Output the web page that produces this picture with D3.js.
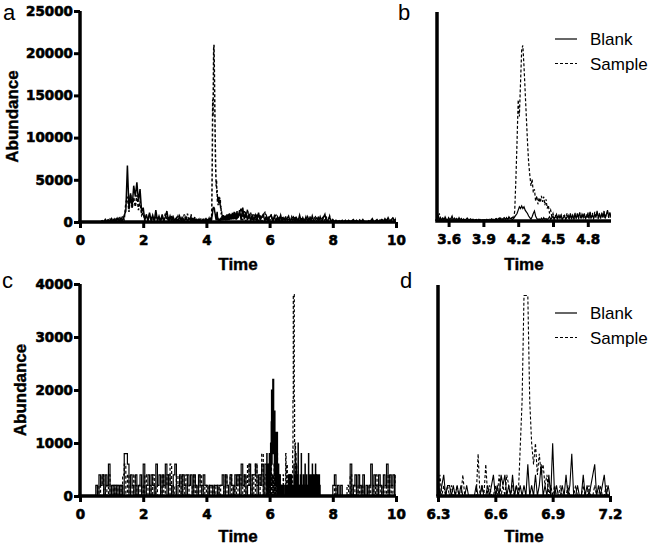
<!DOCTYPE html>
<html><head><meta charset="utf-8">
<script src="https://cdn.jsdelivr.net/npm/d3@7"></script>
<style>body{margin:0;background:#fff}</style>
</head><body>
<svg id="chart" width="649" height="546"></svg>
<script>
// ---------- Data (abundance values) ----------
// Panels a/b: sampled every 0.05 min outside 3.5–5.0, every 0.01 min inside it
const abBlankC1 = [0,0,0,0,0,0,0,0,0,0,0,0,0,0,
  150,0,300,0,250,50,400,0,350,50,450,100,500,100,800,
  1300,6700,1500,3400,1800,4300,3000,4700,2400,3900,1200,1700,
  200,900,100,1100,200,800,100,1400,150,700,100,900,100,600,1300,100,700,50,600,100,500,50,700,100,500,50,600,100,450];
const abBlankF = [200,700,100,400,150,350,100,500,200,100,
  400,150,300,600,100,350,150,300,100,400,
  150,300,100,250,100,200,350,100,150,250,
  100,200,50,150,100,50,200,100,50,150,
  50,150,50,200,100,50,150,250,100,200,
  100,250,150,300,100,350,150,300,400,150,
  350,200,500,250,350,150,300,500,700,900,
  1300,1700,1500,1800,1500,1700,1300,1100,900,600,
  400,200,500,900,1200,600,300,150,250,100,
  350,150,400,200,300,150,300,500,200,350,
  600,200,500,800,250,600,300,700,200,400,
  600,200,500,700,300,900,200,650,300,800,
  300,900,400,1000,300,800,400,900,300,600,
  900,300,1100,400,700,300,800,500,1200,400,
  800,300,900,400,1100,300,800,1300,400,1000,500];
const abBlankC2 = [1400,200,1700,300,1200,200,1000,100,900,200,
  800,100,1100,200,600,900,100,700,100,600,
  800,100,700,50,600,100,800,50,500,200,
  400,700,50,400,600,50,500,100,800,50,
  500,0,600,100,500,0,700,50,350,500,
  50,600,0,500,900,50,300,600,0,300,
  50,200,0,150,50,200,0,150,50,200,
  0,150,300,50,200,0,150,50,300,0,
  50,0,100,150,400,0,150,300,50,200,
  300,50,400,100,500,100,300,450,100,400];
const abSampleC1 = [0,0,0,0,0,0,0,0,0,0,0,0,0,0,
  100,250,0,300,50,350,100,300,50,400,100,450,100,550,300,
  2200,3000,1200,3300,1600,2900,1800,3200,1400,2500,800,1100,
  100,700,200,900,50,600,150,800,200,600,50,700,100,1000,200,600,50,800,100,500,200,700,50,500,100,900,150,1000,100];
const abSampleF = [150,400,900,200,100,350,150,300,100,250,
  300,100,350,150,100,300,150,100,300,150,
  100,250,50,200,250,50,200,300,50,200,
  50,200,50,150,200,50,150,200,50,100,
  150,50,200,100,50,200,100,50,200,100,
  200,300,150,200,350,150,300,100,350,200,
  400,200,350,500,300,450,200,1200,5000,9500,
  14500,12500,16500,20500,21000,18500,15500,12500,9500,7000,
  5500,4200,5000,3400,3800,2400,3000,2000,2800,2200,
  3000,2300,2900,1900,2600,1500,1900,900,1300,500,
  900,300,700,200,600,800,300,700,200,600,
  700,200,900,400,200,800,300,700,200,900,
  400,800,200,1000,500,300,900,400,200,800,
  300,1000,400,800,900,300,1100,400,800,300,
  900,400,1000,500,1200,300,900,1100,400,1000,500];
const abSampleC2 = [900,1700,200,1300,100,1500,300,1100,100,900,
  200,1000,100,900,50,800,1100,100,700,50,
  900,50,600,800,50,700,50,600,100,700,
  100,500,50,600,0,700,50,500,0,600,
  0,500,50,600,0,500,50,400,600,0,
  500,0,400,600,0,500,50,700,0,200,
  0,150,50,200,0,150,50,200,0,100,
  150,0,200,50,150,0,250,50,150,0,
  150,0,200,50,150,200,0,250,50,300,
  100,350,50,400,150,300,100,450,200,500];

// Panels c/d: sampled every 0.05 min outside 5.9–7.6, every 0.01 min inside it
const cdBlankC1 = [0,0,0,0,0,0,0,0,0,0,
  200,0,400,200,400,0,400,200,600,0,
  200,0,200,0,200,0,200,0,800,800,
  600,0,400,200,0,400,0,200,400,0,
  600,0,200,400,0,400,200,0,600,200,
  400,0,400,200,600,0,400,200,0,400,
  600,0,200,400,0,400,200,0,400,200,
  400,0,400,200,0,400,200,0,400,200,
  200,0,200,200,0,200,200,0,200,200,
  400,0,400,200,0,400,200,0,400,200,
  400,0,600,200,400,0,200,600,0,400,
  400,600,0,400,200,600,0,600];
const cdBlankF = [200,800,0,400,200,600,0,400,200,800,
  400,600,0,1000,200,1400,2000,600,2000,1200,
  2200,800,2200,1000,1600,400,1600,600,1200,200,
  1200,400,1200,200,1200,0,400,200,600,0,
  400,0,200,400,0,200,200,0,200,0,
  200,0,200,0,0,200,0,0,0,0,
  200,0,0,200,0,0,200,0,200,400,
  0,200,0,400,200,400,0,200,0,400,
  0,200,0,200,0,200,0,600,0,200,
  0,400,0,200,600,0,200,0,400,0,
  1000,0,200,0,0,200,0,400,0,200,
  800,0,0,200,0,0,400,0,200,0,
  200,400,600,0,200,0,200,400,0,200,
  0,
  200,0,800,0,200,400,0,200,0,400,
  0,200,400,0,600,0,200,400,0,200,
  0,400,0,200,600,0,200,0,400,200,
  0,200,400,0,200,0,400,0,200,0];
const cdBlankC2 = [0,0,0,0,0,0,0,200,400,0,
  200,0,200,0,0,0,0,0,600,0,
  200,400,0,400,200,0,400,0,200,0,
  200,600,0,400,200,0,400,200,0,400,
  200,600,0,400,200,400,0,400];
const cdSampleC1 = [0,0,0,0,0,0,0,0,0,0,
  0,200,0,200,400,0,200,0,400,0,
  0,200,0,200,0,200,0,400,600,0,
  400,0,200,0,400,200,0,200,0,200,
  0,400,200,0,200,0,400,200,0,200,
  200,0,400,0,200,400,0,600,0,200,
  0,400,200,0,400,0,200,400,0,200,
  200,0,400,0,200,0,400,200,0,200,
  0,200,0,200,0,200,0,200,0,200,
  200,0,400,0,200,400,0,200,0,400,
  0,400,200,0,400,0,600,200,0,400,
  0,600,200,0,400,800,0,400];
const cdSampleF = [0,200,400,0,200,0,600,200,0,400,
  200,0,400,200,0,600,200,0,400,200,
  0,400,200,0,600,0,200,400,0,200,
  400,0,200,0,800,0,200,400,0,200,
  0,400,0,200,0,200,0,200,0,0,
  200,0,0,400,0,0,0,0,0,0,
  0,800,0,200,0,600,0,200,0,0,
  200,0,400,0,200,0,400,200,0,200,
  0,200,0,900,1800,3800,3800,3800,1800,1000,
  600,1000,400,800,400,600,200,400,0,200,
  0,200,0,0,200,0,0,0,200,0,
  0,0,200,0,0,0,200,0,0,200,
  0,0,200,0,0,200,0,0,200,0,
  0,
  0,200,0,0,400,0,200,0,0,200,
  0,0,200,0,0,400,0,200,0,0,
  200,0,0,200,0,0,400,0,0,200,
  0,0,200,0,0,200,0,0,0,0];
const cdSampleC2 = [0,0,0,0,0,0,0,0,200,0,
  0,0,0,0,0,0,200,0,400,0,
  200,0,200,0,200,0,200,0,0,200,
  0,200,200,0,400,0,200,0,200,0,
  200,0,400,0,200,0,400,200];

// Tick values
const aXTicks = [0,2,4,6,8,10];
const aYTicks = [0,5000,10000,15000,20000,25000];
const bXTicks = [3.6,3.9,4.2,4.5,4.8];
const cXTicks = [0,2,4,6,8,10];
const cYTicks = [0,1000,2000,3000,4000];
const dXTicks = [6.3,6.6,6.9,7.2];
const legendLabels = ["Blank","Sample"];

// ---------- Build series ----------
function seg(start, step, vals){ return vals.map((v,i)=>({t:+(start+step*i).toFixed(3), v:v})); }
const abBlank = [...seg(0,0.05,abBlankC1), ...seg(3.5,0.01,abBlankF), ...seg(5.05,0.05,abBlankC2)];
const abSample = [...seg(0,0.05,abSampleC1), ...seg(3.5,0.01,abSampleF), ...seg(5.05,0.05,abSampleC2)];
const cdBlank = [...seg(0,0.05,cdBlankC1), ...seg(5.9,0.01,cdBlankF), ...seg(7.65,0.05,cdBlankC2)];
const cdSample = [...seg(0,0.05,cdSampleC1), ...seg(5.9,0.01,cdSampleF), ...seg(7.65,0.05,cdSampleC2)];

const svg = d3.select("#chart");
const TICKFONT = "'DejaVu Sans', sans-serif";
const TITLEFONT = "'Liberation Sans', Arial, sans-serif";

function panel(o){
  const g = svg.append("g");
  const x = d3.scaleLinear().domain(o.xd).range(o.xr);
  const y = d3.scaleLinear().domain(o.yd).range(o.yr);
  const id = "clip" + o.letter;
  svg.append("clipPath").attr("id", id).append("rect")
    .attr("x", o.xr[0]).attr("y", o.yr[1]-2).attr("width", o.xr[1]-o.xr[0]).attr("height", o.yr[0]-o.yr[1]+2);
  const line = d3.line().x(d=>x(d.t)).y(d=>y(d.v)).curve(o.curve || d3.curveLinear);
  const dg = g.append("g").attr("clip-path", `url(#${id})`);
  dg.append("path").datum(o.blank).attr("d", line).attr("fill","none")
    .attr("stroke","#000").attr("stroke-width",o.lw).attr("stroke-linejoin","miter");
  dg.append("path").datum(o.sample).attr("d", line).attr("fill","none")
    .attr("stroke","#000").attr("stroke-width",o.lw).attr("stroke-dasharray","3,2");

  const xa = g.append("g").attr("transform", `translate(0,${o.yr[0]})`)
    .call(d3.axisBottom(x).tickValues(o.xt).tickFormat(d3.format(o.xf)).tickSize(6).tickPadding(7).tickSizeOuter(0));
  const ya = g.append("g").attr("transform", `translate(${o.xr[0]},0)`)
    .call(d3.axisLeft(y).tickValues(o.yt || []).tickFormat(d3.format("d")).tickSize(6).tickPadding(1).tickSizeOuter(0));
  [xa, ya].forEach(a=>{
    a.select(".domain").attr("stroke","#000").attr("stroke-width",3.5);
    a.selectAll(".tick line").attr("stroke","#000").attr("stroke-width",3);
    a.selectAll(".tick text").attr("fill","#000").attr("font-family",TICKFONT)
      .attr("font-weight","bold").attr("font-size","13.5px")
      .attr("stroke","#000").attr("stroke-width",0.6);
  });
  xa.select(".domain").attr("d", `M${o.xr[0]-1.75},0H${o.xr[1]}`);
  ya.select(".domain").attr("d", `M0,${o.yr[0]}V${o.yr[1]}`);

  g.append("text").attr("x", (o.xr[0]+o.xr[1])/2).attr("y", o.yr[0]+o.tOff)
    .attr("text-anchor","middle").attr("font-family",TITLEFONT).attr("font-weight","bold")
    .attr("font-size","17px").attr("stroke","#000").attr("stroke-width",0.4).text("Time");
  if (o.ylab) {
    g.append("text").attr("transform", `translate(${o.ylabX},${(o.yr[0]+o.yr[1])/2}) rotate(-90)`)
      .attr("text-anchor","middle").attr("font-family",TITLEFONT).attr("font-weight","bold")
      .attr("font-size","17px").attr("stroke","#000").attr("stroke-width",0.4).text("Abundance");
  }
  g.append("text").attr("x", o.lx).attr("y", o.ly).attr("font-family",TITLEFONT)
    .attr("font-size","22px").text(o.letter);
  if (o.legend) {
    const lg = g.append("g");
    legendLabels.forEach((lab,i)=>{
      const yy = o.legend[1] + i*24.5;
      lg.append("line").attr("x1",o.legend[0]).attr("x2",o.legend[0]+22).attr("y1",yy).attr("y2",yy)
        .attr("stroke","#000").attr("stroke-width",1.2).attr("stroke-dasharray", i ? "3,2" : null);
      lg.append("text").attr("x",o.legend[0]+35).attr("y",yy+6).attr("font-family",TITLEFONT)
        .attr("font-size","17px").text(lab);
    });
  }
}

panel({letter:"a", xd:[0,10], xr:[80,396], yd:[0,25000], yr:[222,11], xt:aXTicks, xf:"d", yt:aYTicks,
  blank:abBlank, sample:abSample, ylab:true, ylabX:18, lx:3, ly:20, lw:1.5, tOff:48});
panel({letter:"b", xd:[3.5,5.0], xr:[437,611], yd:[0,25000], yr:[221,12], xt:bXTicks, xf:".1f", yt:null,
  blank:abBlank, sample:abSample, ylab:false, lx:398, ly:20, legend:[555,39], lw:1.2, tOff:49});
panel({letter:"c", xd:[0,10], xr:[80,396], yd:[0,4000], yr:[496,284], xt:cXTicks, xf:"d", yt:cYTicks,
  blank:cdBlank, sample:cdSample, ylab:true, ylabX:26, lx:2, ly:288, lw:1.2, tOff:46, curve:d3.curveStepAfter});
panel({letter:"d", xd:[6.3,7.2], xr:[438,610], yd:[0,4000], yr:[496,285], xt:dXTicks, xf:".1f", yt:null,
  blank:cdBlank, sample:cdSample, ylab:false, lx:400, ly:288, legend:[555,313], lw:1.1, tOff:46});
</script>
</body></html>
